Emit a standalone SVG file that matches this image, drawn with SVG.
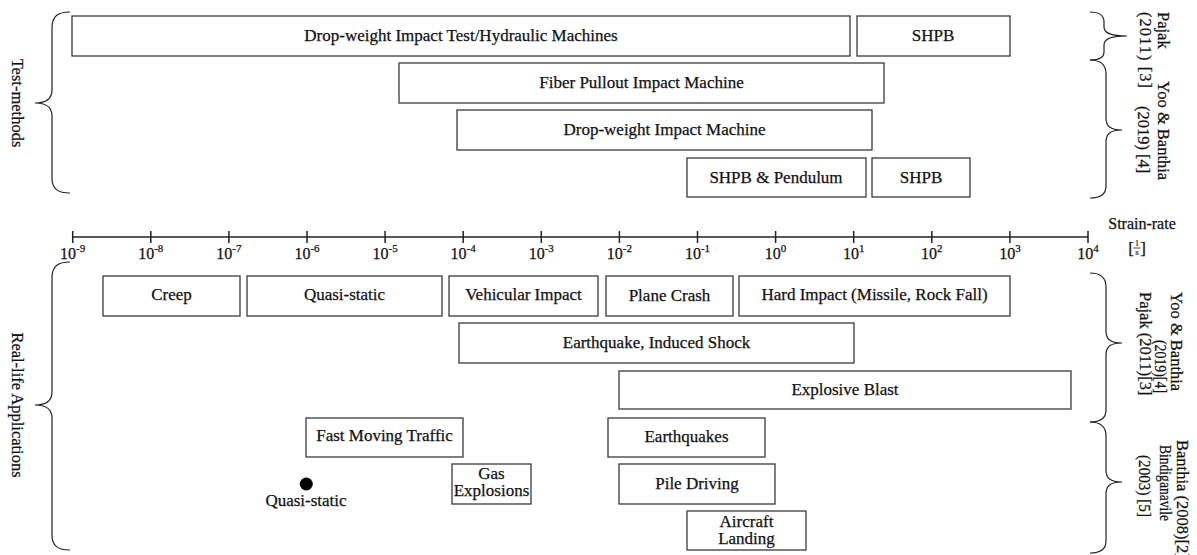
<svg xmlns="http://www.w3.org/2000/svg" width="1197" height="555" viewBox="0 0 1197 555">
<style>
.box{fill:#fff;stroke:#3a3a3a;stroke-width:1.3}
.t{font-family:"Liberation Serif","Times New Roman",serif;font-size:17px;fill:#111;stroke:#111;stroke-width:0.25;text-anchor:middle}
.r{font-family:"Liberation Serif","Times New Roman",serif;font-size:16.5px;fill:#111;stroke:#111;stroke-width:0.25}
.ax{font-family:"Liberation Serif","Times New Roman",serif;font-size:16px;fill:#111;stroke:#111;stroke-width:0.25;text-anchor:middle}
.sup{font-size:11px}
.brace{fill:none;stroke:#222;stroke-width:1.2}
.axis{stroke:#222;stroke-width:1.5;fill:none}
</style>
<rect width="1197" height="555" fill="#fff"/>

<g id="connectors">
  <g id="axis">
    <line class="axis" x1="72.7" y1="237" x2="1088" y2="237"/>
    <path class="axis" d="M72.7,231V243M150.8,231V243M228.9,231V243M307,231V243M385.1,231V243M463.2,231V243M541.3,231V243M619.4,231V243M697.5,231V243M775.6,231V243M853.7,231V243M931.8,231V243M1009.9,231V243M1088,231V243"/>
  </g>
  <g id="braces">
    <path class="brace" d="M70,12 C58,12 52,16 52,28 L52,90 C52,99 46,103 35,103 C46,103 52,107 52,116 L52,178 C52,189 58,193 70,193"/>
    <path class="brace" d="M70,262 C58,262 52,266 52,278 L52,392 C52,401 46,405 35,405 C46,405 52,409 52,418 L52,535 C52,546 58,550 70,550"/>
    <path class="brace" d="M1090,12 C1099,12 1104,15 1104,22 L1104,27 C1104,33 1110,36 1127,36 C1110,36 1104,39 1104,45 L1104,52 C1104,58 1099,60 1090,60"/>
    <path class="brace" d="M1090,60 C1100,60 1106,64 1106,74 L1106,118 C1106,126 1110,130 1122,130 C1110,130 1106,134 1106,142 L1106,186 C1106,195 1100,198 1090,198"/>
    <path class="brace" d="M1090,273 C1100,273 1106,277 1106,287 L1106,331 C1106,339 1110,343 1122,343 C1110,343 1106,347 1106,355 L1106,410 C1106,419 1100,422 1090,422"/>
    <path class="brace" d="M1090,422 C1100,422 1106,426 1106,436 L1106,470 C1106,478 1110,482 1122,482 C1110,482 1106,486 1106,494 L1106,541 C1106,550 1100,553 1090,553"/>
  </g>
</g>

<g id="axis-labels">
  <text class="ax" x="72.7" y="259">10<tspan class="sup" dy="-7">-9</tspan></text>
  <text class="ax" x="150.8" y="259">10<tspan class="sup" dy="-7">-8</tspan></text>
  <text class="ax" x="228.9" y="259">10<tspan class="sup" dy="-7">-7</tspan></text>
  <text class="ax" x="307" y="259">10<tspan class="sup" dy="-7">-6</tspan></text>
  <text class="ax" x="385.1" y="259">10<tspan class="sup" dy="-7">-5</tspan></text>
  <text class="ax" x="463.2" y="259">10<tspan class="sup" dy="-7">-4</tspan></text>
  <text class="ax" x="541.3" y="259">10<tspan class="sup" dy="-7">-3</tspan></text>
  <text class="ax" x="619.4" y="259">10<tspan class="sup" dy="-7">-2</tspan></text>
  <text class="ax" x="697.5" y="259">10<tspan class="sup" dy="-7">-1</tspan></text>
  <text class="ax" x="775.6" y="259">10<tspan class="sup" dy="-7">0</tspan></text>
  <text class="ax" x="853.7" y="259">10<tspan class="sup" dy="-7">1</tspan></text>
  <text class="ax" x="931.8" y="259">10<tspan class="sup" dy="-7">2</tspan></text>
  <text class="ax" x="1009.9" y="259">10<tspan class="sup" dy="-7">3</tspan></text>
  <text class="ax" x="1088" y="259">10<tspan class="sup" dy="-7">4</tspan></text>
  <text class="ax" x="1142" y="229">Strain-rate</text>
  <text class="ax" x="1131" y="254" style="font-size:17px">[</text>
  <text class="ax" x="1143" y="254" style="font-size:17px">]</text>
  <text class="ax" x="1137" y="246" style="font-size:9px;stroke-width:0.15">1</text>
  <line x1="1133.5" y1="248" x2="1140.5" y2="248" stroke="#111" stroke-width="0.8"/>
  <text class="ax" x="1137" y="255" style="font-size:9px;stroke-width:0.15">s</text>
</g>

<g id="side-labels">
  <text class="t" style="font-size:16.5px" transform="translate(12,103) rotate(90)">Test-methods</text>
  <text class="t" style="font-size:16.5px" transform="translate(12,405) rotate(90)">Real-life Applications</text>
  <text class="r" transform="translate(1158,12) rotate(90)">Pajak</text>
  <text class="r" transform="translate(1140,12) rotate(90)" textLength="76" lengthAdjust="spacing">(2011) [3]</text>
  <text class="r" transform="translate(1158,81) rotate(90)">Yoo &amp; Banthia</text>
  <text class="r" transform="translate(1138,106) rotate(90)">(2019) [4]</text>
  <text class="r" transform="translate(1171,292) rotate(90)">Yoo &amp; Banthia</text>
  <text class="r" transform="translate(1155,340) rotate(90)" textLength="53" lengthAdjust="spacingAndGlyphs">(2019)[4]</text>
  <text class="r" transform="translate(1140,292) rotate(90)">Pajak (2011)[3]</text>
  <text class="r" transform="translate(1177,440) rotate(90)">Banthia (2008)[2]</text>
  <text class="r" transform="translate(1160,445) rotate(90)" textLength="76" lengthAdjust="spacingAndGlyphs">Bindiganavile</text>
  <text class="r" transform="translate(1139,455) rotate(90)" textLength="62" lengthAdjust="spacingAndGlyphs">(2003)  [5]</text>
</g>

<g id="n-dw-hyd"><rect class="box" x="72" y="16" width="778" height="40"/><text class="t" x="461" y="41">Drop-weight Impact Test/Hydraulic Machines</text></g>
<g id="n-shpb1"><rect class="box" x="857" y="16" width="153" height="40"/><text class="t" x="933" y="41">SHPB</text></g>
<g id="n-fiber"><rect class="box" x="399" y="63" width="485" height="40"/><text class="t" x="641.5" y="88">Fiber Pullout Impact Machine</text></g>
<g id="n-dw-machine"><rect class="box" x="457" y="110" width="415" height="40"/><text class="t" x="664.5" y="135">Drop-weight Impact Machine</text></g>
<g id="n-shpb-pend"><rect class="box" x="687" y="158" width="179" height="39"/><text class="t" x="776" y="183">SHPB &amp; Pendulum</text></g>
<g id="n-shpb2"><rect class="box" x="872" y="158" width="98" height="39"/><text class="t" x="921" y="183">SHPB</text></g>

<g id="n-creep"><rect class="box" x="103" y="276" width="137" height="40"/><text class="t" x="171.5" y="300">Creep</text></g>
<g id="n-quasi"><rect class="box" x="247" y="276" width="195" height="40"/><text class="t" x="344.5" y="300">Quasi-static</text></g>
<g id="n-vehicular"><rect class="box" x="449" y="276" width="149" height="40"/><text class="t" x="523.5" y="300">Vehicular Impact</text></g>
<g id="n-plane"><rect class="box" x="606" y="276" width="127" height="40"/><text class="t" x="669.5" y="301">Plane Crash</text></g>
<g id="n-hard"><rect class="box" x="739" y="276" width="271" height="40"/><text class="t" x="874.5" y="300">Hard Impact (Missile, Rock Fall)</text></g>
<g id="n-eq-shock"><rect class="box" x="459" y="323" width="395" height="40"/><text class="t" x="656.5" y="348">Earthquake, Induced Shock</text></g>
<g id="n-explosive"><rect class="box" x="619" y="371" width="452" height="38"/><text class="t" x="845" y="395">Explosive Blast</text></g>
<g id="n-fast"><rect class="box" x="306" y="418" width="157" height="39"/><text class="t" x="384.5" y="441">Fast Moving Traffic</text></g>
<g id="n-earthquakes"><rect class="box" x="608" y="418" width="157" height="39"/><text class="t" x="686.5" y="442">Earthquakes</text></g>
<g id="n-gas"><rect class="box" x="452" y="464" width="79" height="40"/><text class="t" x="491.5" y="479">Gas</text><text class="t" x="491.5" y="496">Explosions</text></g>
<g id="n-pile"><rect class="box" x="619" y="464" width="156" height="40"/><text class="t" x="697" y="489">Pile Driving</text></g>
<g id="n-aircraft"><rect class="box" x="687" y="511" width="119" height="39"/><text class="t" x="746.5" y="527">Aircraft</text><text class="t" x="746.5" y="544">Landing</text></g>
<g id="n-quasi-dot"><circle cx="306.3" cy="484" r="6.5" fill="#000"/><text class="t" x="306" y="506">Quasi-static</text></g>
</svg>
